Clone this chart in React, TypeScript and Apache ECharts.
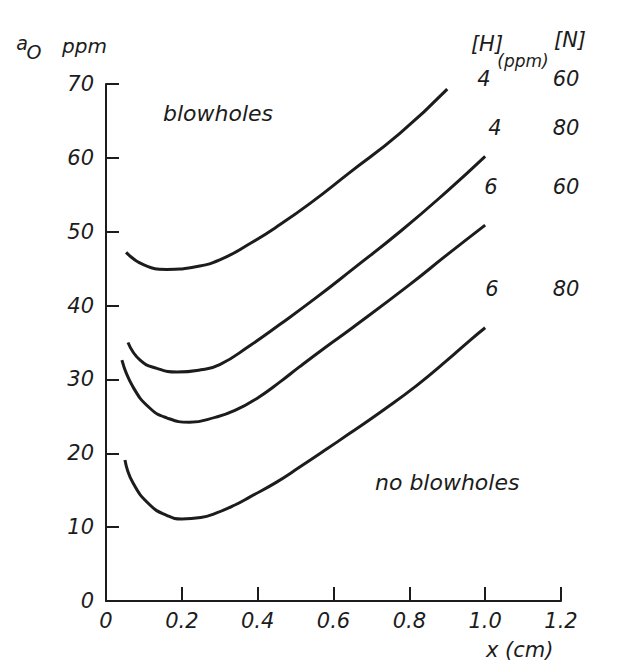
import React, { useEffect, useRef } from "react";
import * as echarts from "echarts";

// Curve 1: [H] = 4 ppm, [N] = 60 ppm
const curve1X = [0.053, 0.1, 0.16, 0.23, 0.3, 0.38, 0.46, 0.54, 0.64, 0.775, 0.9];
const curve1Y = [47.2, 45.5, 44.9, 45.2, 46.2, 48.4, 51.0, 53.9, 57.9, 63.3, 69.3];
// Curve 2: [H] = 4 ppm, [N] = 80 ppm
const curve2X = [0.058, 0.09, 0.134, 0.187, 0.25, 0.3, 0.38, 0.46, 0.55, 0.65, 0.78, 0.9, 1.0];
const curve2Y = [35.0, 32.6, 31.5, 31.0, 31.3, 32.0, 34.6, 37.5, 40.9, 44.9, 50.2, 55.5, 60.2];
// Curve 3: [H] = 6 ppm, [N] = 60 ppm
const curve3X = [0.042, 0.071, 0.116, 0.16, 0.22, 0.29, 0.34, 0.4, 0.46, 0.51, 0.58, 0.65, 0.8, 0.9, 1.0];
const curve3Y = [32.6, 29.0, 26.1, 24.8, 24.2, 24.9, 25.8, 27.5, 29.7, 31.7, 34.4, 37.0, 42.8, 46.9, 50.9];
// Curve 4: [H] = 6 ppm, [N] = 80 ppm
const curve4X = [0.05, 0.071, 0.116, 0.16, 0.2, 0.25, 0.29, 0.34, 0.38, 0.45, 0.51, 0.58, 0.64, 0.73, 0.82, 0.9, 0.96, 1.0];
const curve4Y = [19.1, 16.0, 13.0, 11.6, 11.1, 11.3, 11.9, 13.0, 14.1, 16.1, 18.1, 20.5, 22.6, 25.8, 29.2, 32.6, 35.3, 37.0];

const hLabels = ["4", "4", "6", "6"];
const nLabels = ["60", "80", "60", "80"];

const xTicks = [0, 0.2, 0.4, 0.6, 0.8, 1.0, 1.2];
const yTicks = [0, 10, 20, 30, 40, 50, 60, 70];

const FONT = "DejaVu Sans";
const INK = "#1c1c1c";

function zip(xs: number[], ys: number[]) {
  return xs.map((x, i) => [x, ys[i]]);
}

export default function App() {
  const ref = useRef<HTMLDivElement>(null);

  useEffect(() => {
    document.body.style.margin = "0";
    if (!ref.current) return;
    const chart = echarts.init(ref.current, undefined, { renderer: "svg" });

    const txt = (text: string, x: number, y: number, size: number, align = "center") => ({
      type: "text",
      x,
      y,
      style: {
        text,
        fill: INK,
        font: `italic ${size}px "${FONT}"`,
        textAlign: align,
        textVerticalAlign: "middle",
      },
    });

    const labelRowsY = [79, 128, 187, 289];
    const hX = [484, 495, 491, 492];
    const graphic: any[] = [
      txt("a", 22, 43, 19),
      txt("O", 34, 52, 19),
      txt("ppm", 62, 46, 20, "left"),
      txt("[H]", 487, 44, 21),
      txt("(ppm)", 523, 61, 17),
      txt("[N]", 570, 40, 21),
      txt("blowholes", 163, 113, 22, "left"),
      txt("no blowholes", 375, 482, 22, "left"),
      txt("x (cm)", 486, 650, 21, "left"),
    ];
    labelRowsY.forEach((y, i) => {
      graphic.push(txt(hLabels[i], hX[i], y, 21));
      graphic.push(txt(nLabels[i], 566, y, 21));
    });

    const lineSeries = [
      zip(curve1X, curve1Y),
      zip(curve2X, curve2Y),
      zip(curve3X, curve3Y),
      zip(curve4X, curve4Y),
    ].map((data) => ({
      type: "line",
      data,
      smooth: 0.5,
      showSymbol: false,
      lineStyle: { color: INK, width: 3 },
      silent: true,
    }));

    chart.setOption({
      animation: false,
      backgroundColor: "#ffffff",
      grid: { left: 106, right: 81, top: 84, bottom: 68 },
      xAxis: {
        type: "value",
        min: xTicks[0],
        max: xTicks[xTicks.length - 1],
        interval: 0.2,
        axisLine: { show: true, lineStyle: { color: INK, width: 2 } },
        axisTick: { show: true, inside: true, length: 14, lineStyle: { color: INK, width: 2 } },
        splitLine: { show: false },
        axisLabel: {
          color: INK,
          fontFamily: FONT,
          fontStyle: "italic",
          fontSize: 21,
          margin: 9,
          formatter: (v: number) => (v === 0 ? "0" : v.toFixed(1)),
        },
      },
      yAxis: {
        type: "value",
        min: yTicks[0],
        max: yTicks[yTicks.length - 1],
        interval: 10,
        axisLine: { show: true, lineStyle: { color: INK, width: 2 } },
        axisTick: { show: true, inside: true, length: 13, lineStyle: { color: INK, width: 2 } },
        splitLine: { show: false },
        axisLabel: {
          color: INK,
          fontFamily: FONT,
          fontStyle: "italic",
          fontSize: 21,
          margin: 12,
        },
      },
      series: lineSeries,
      graphic,
    });

    return () => chart.dispose();
  }, []);

  return <div ref={ref} style={{ width: 642, height: 669 }} />;
}
